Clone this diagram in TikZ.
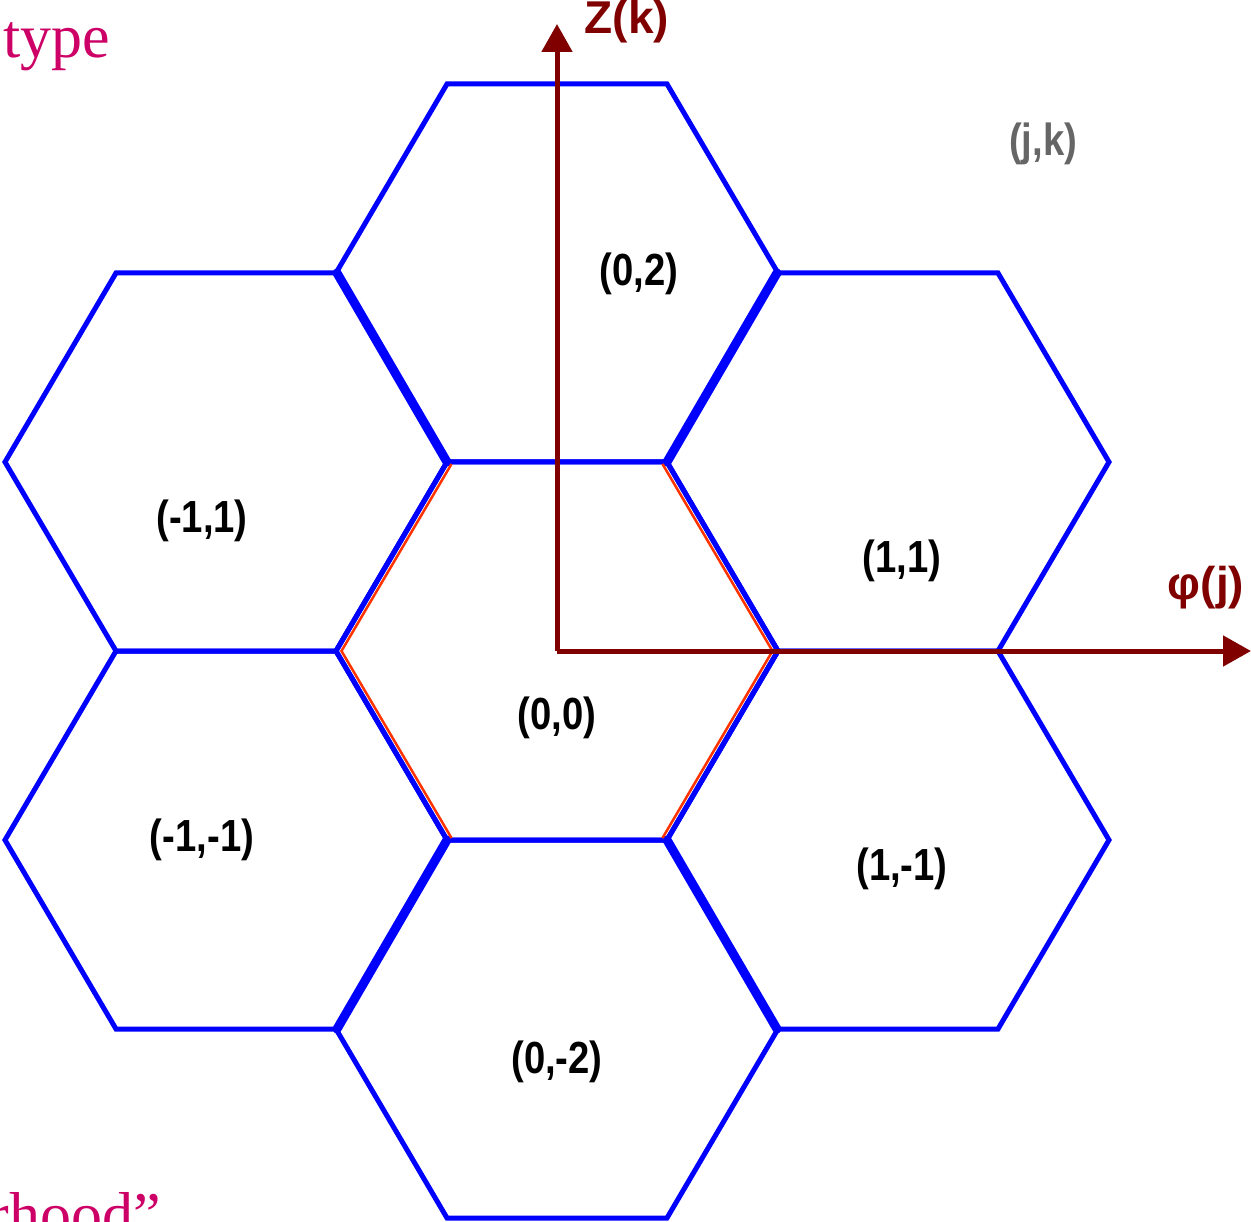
\documentclass[tikz,border=0pt]{standalone}
\usepackage{fontspec}
\usetikzlibrary{arrows.meta}
\newfontfamily\labfont[FakeStretch=0.85]{Liberation Sans Bold}
\newfontfamily\axfont{Liberation Sans Bold}
\newfontfamily\serfont{Liberation Serif}
\definecolor{hexblue}{RGB}{0,0,255}
\definecolor{axred}{RGB}{128,0,0}
\definecolor{redline}{RGB}{255,51,0}
\definecolor{magtext}{RGB}{204,0,102}
\definecolor{graytext}{RGB}{102,102,102}
\begin{document}
\begin{tikzpicture}[x=1pt,y=-1pt,
  hexline/.style={draw=hexblue,line width=5pt,line join=miter},
  thickedge/.style={draw=hexblue,line width=9pt,line cap=round},
  celllabel/.style={inner sep=0pt,font=\labfont\fontsize{45}{50}\selectfont},
  axis/.style={draw=axred,line width=5pt,-{Triangle[length=28pt,width=30pt]}},
  axlabel/.style={inner sep=0pt,text=axred,font=\axfont\fontsize{46}{50}\selectfont},
  pinktext/.style={inner sep=0pt,text=magtext,font=\serfont\fontsize{62}{70}\selectfont}]
\useasboundingbox (0,0) rectangle (1251,1222);
\clip (0,0) rectangle (1251,1222);
\fill[white] (0,0) rectangle (1251,1222);
% hexagon centres
\coordinate (h00) at (557,651);
\coordinate (h02) at (557,273);
\coordinate (h0m2) at (557,1029);
\coordinate (h11) at (888,462);
\coordinate (h1m1) at (888,840);
\coordinate (hm11) at (226,462);
\coordinate (hm1m1) at (226,840);
\foreach \c in {h00,h02,h0m2,h11,h1m1,hm11,hm1m1}{
  \draw[hexline] ([shift={(-110,-189)}]\c) -- ([shift={(110,-189)}]\c) -- ([shift={(221,0)}]\c)
     -- ([shift={(110,189)}]\c) -- ([shift={(-110,189)}]\c) -- ([shift={(-221,0)}]\c) -- cycle;
}
% thick shared edges
\draw[thickedge] (337,273) -- (447,462);
\draw[thickedge] (667,462) -- (777,273);
\draw[thickedge] (447,840) -- (337,1029);
\draw[thickedge] (667,840) -- (777,1029);
% red inner lines
\draw[redline,line width=2.5pt,line join=miter] (451.5,464) -- (341.5,651) -- (451.5,838);
\draw[redline,line width=2.5pt,line join=miter] (662.5,464) -- (772.5,651) -- (662.5,838);
% axes
\coordinate (ztop) at (557,24);
\coordinate (phiend) at (1251,651);
\draw[axis] (h00) -- (ztop);
\draw[axis] (h00) -- (phiend);
\node[axlabel] (zlab) at (627,22) {Z(k)};
\node[axlabel] (philab) at (1206,588) {φ(j)};
% cell labels
\node[celllabel] (l02) at (639,274) {(0,2)};
\node[celllabel] (lm11) at (202,521) {(-1,1)};
\node[celllabel] (l11) at (902,561) {(1,1)};
\node[celllabel] (l00) at (557,718) {(0,0)};
\node[celllabel] (lm1m1) at (202,840) {(-1,-1)};
\node[celllabel] (l1m1) at (902,869) {(1,-1)};
\node[celllabel] (l0m2) at (557,1062) {(0,-2)};
\node[celllabel,text=graytext] (ljk) at (1043,144) {(j,k)};
% cropped text fragments
\node[pinktext,anchor=base west] (ttype) at (3,58) {type};
\node[pinktext,anchor=base east] (thood) at (161,1235) {neighborhood”};
\end{tikzpicture}
\end{document}
